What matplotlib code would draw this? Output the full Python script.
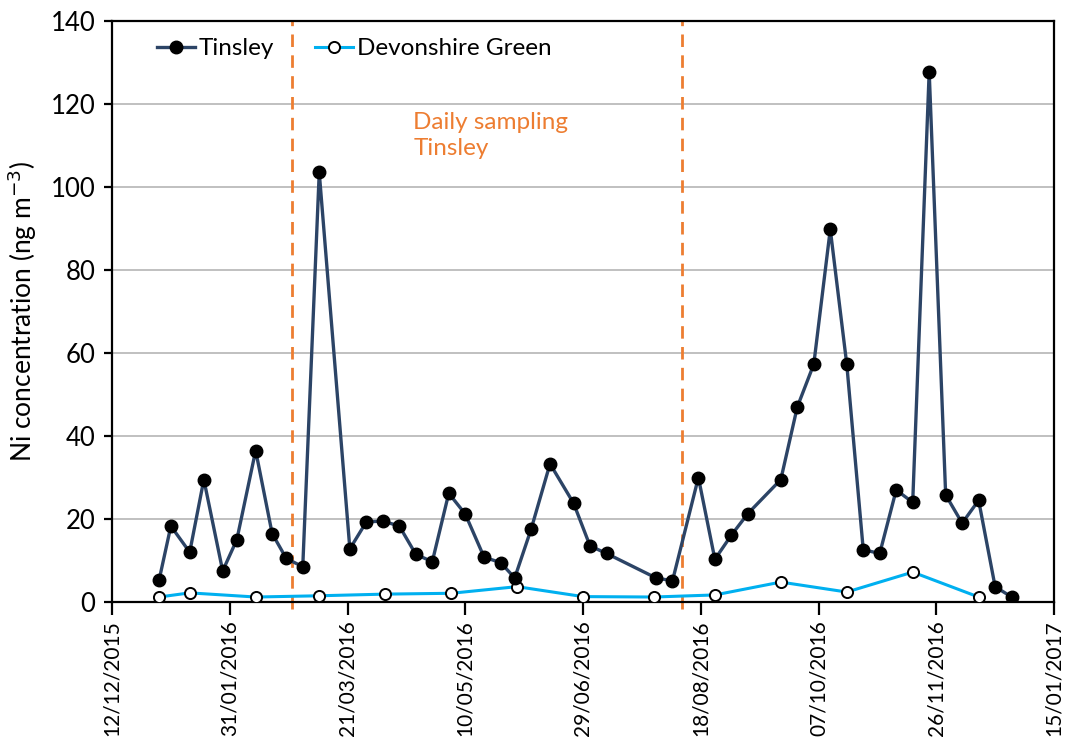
import matplotlib
matplotlib.use("Agg")
import matplotlib.pyplot as plt
import pandas as pd

plt.rcParams['font.family'] = ['Lato', 'DejaVu Sans']

# Tinsley Ni concentrations (ng m-3)
tinsley_dates = ['2016-01-01', '2016-01-06', '2016-01-14', '2016-01-20', '2016-01-28', '2016-02-03',
                 '2016-02-11', '2016-02-18', '2016-02-24', '2016-03-02', '2016-03-09', '2016-03-22',
                 '2016-03-29', '2016-04-05', '2016-04-12', '2016-04-19', '2016-04-26', '2016-05-03',
                 '2016-05-10', '2016-05-18', '2016-05-25', '2016-05-31', '2016-06-07', '2016-06-15',
                 '2016-06-25', '2016-07-02', '2016-07-09', '2016-07-30', '2016-08-06', '2016-08-17',
                 '2016-08-24', '2016-08-31', '2016-09-07', '2016-09-21', '2016-09-28', '2016-10-05',
                 '2016-10-12', '2016-10-19', '2016-10-26', '2016-11-02', '2016-11-09', '2016-11-16',
                 '2016-11-23', '2016-11-30', '2016-12-07', '2016-12-14', '2016-12-21', '2016-12-28']
tinsley_ni = [5.3, 18.3, 12.0, 29.5, 7.5, 15.0, 36.5, 16.5, 10.5, 8.5, 103.5, 12.8,
              19.3, 19.5, 18.3, 11.5, 9.7, 26.2, 21.2, 10.8, 9.5, 5.8, 17.6, 33.3,
              23.8, 13.5, 11.7, 5.8, 5.1, 30.0, 10.3, 16.1, 21.3, 29.5, 47.0, 57.3,
              89.8, 57.3, 12.6, 11.7, 27.0, 24.0, 127.8, 25.8, 19.0, 24.5, 3.7, 1.2]

# Devonshire Green Ni concentrations (ng m-3)
devonshire_dates = ['2016-01-01', '2016-01-14', '2016-02-11', '2016-03-09', '2016-04-06', '2016-05-04',
                    '2016-06-01', '2016-06-29', '2016-07-29', '2016-08-24', '2016-09-21', '2016-10-19',
                    '2016-11-16', '2016-12-14']
devonshire_ni = [1.2, 2.2, 1.2, 1.5, 1.9, 2.1, 3.7, 1.3, 1.2, 1.7, 4.8, 2.4, 7.2, 1.2]

# start / end of the daily sampling campaign
daily_start = '2016-02-26 12:00'
daily_end = '2016-08-10'

x_start = '2015-12-12'
x_end = '2017-01-15'

orange = '#ED7D31'

fig = plt.figure(figsize=(10.75, 7.53), dpi=100)
ax = fig.add_axes([112 / 1075, 1 - 602 / 753, 942 / 1075, 581 / 753])

ax.plot(pd.to_datetime(tinsley_dates), tinsley_ni, color='#2C4466', lw=2.4,
        marker='o', ms=9, mfc='black', mec='black', label='Tinsley', zorder=4)
ax.plot(pd.to_datetime(devonshire_dates), devonshire_ni, color='#00B0F0', lw=2.2,
        marker='o', ms=8, mfc='white', mec='black', mew=1.4, label='Devonshire Green', zorder=3)

for d in (daily_start, daily_end):
    ax.axvline(pd.Timestamp(d), ymin=-0.012, ymax=1, color=orange, lw=2, ls=(0, (4.5, 3)),
               clip_on=False, zorder=2)

ax.text(pd.Timestamp('2016-04-18'), 118, 'Daily sampling\nTinsley', color=orange,
        fontsize=17.5, va='top', ha='left', linespacing=1.3)

ax.set_xlim(pd.Timestamp(x_start), pd.Timestamp(x_end))
ax.set_ylim(0, 140)
ax.set_yticks(range(0, 141, 20))
ticks = pd.date_range(x_start, x_end, freq='50D')
ax.set_xticks(ticks)
ax.set_xticklabels([t.strftime('%d/%m/%Y') for t in ticks], rotation=90)

ax.grid(axis='y', color='#b5b5b5', lw=1.2)
ax.set_axisbelow(True)
for s in ax.spines.values():
    s.set_linewidth(1.6)
    s.set_color('black')
ax.tick_params(axis='x', direction='out', length=9, width=1.6, labelsize=15, pad=4)
ax.tick_params(axis='y', direction='out', length=6, width=1.6, labelsize=18.5, pad=6)

ax.set_ylabel('Ni concentration (ng m$^{-3}$)', fontsize=19, labelpad=8)

ax.legend(loc='upper left', bbox_to_anchor=(0.025, 1.008), ncol=2, frameon=False,
          fontsize=17.5, handlelength=1.55, handletextpad=0.15, columnspacing=1.7)

fig.savefig('out.png', dpi=100)
